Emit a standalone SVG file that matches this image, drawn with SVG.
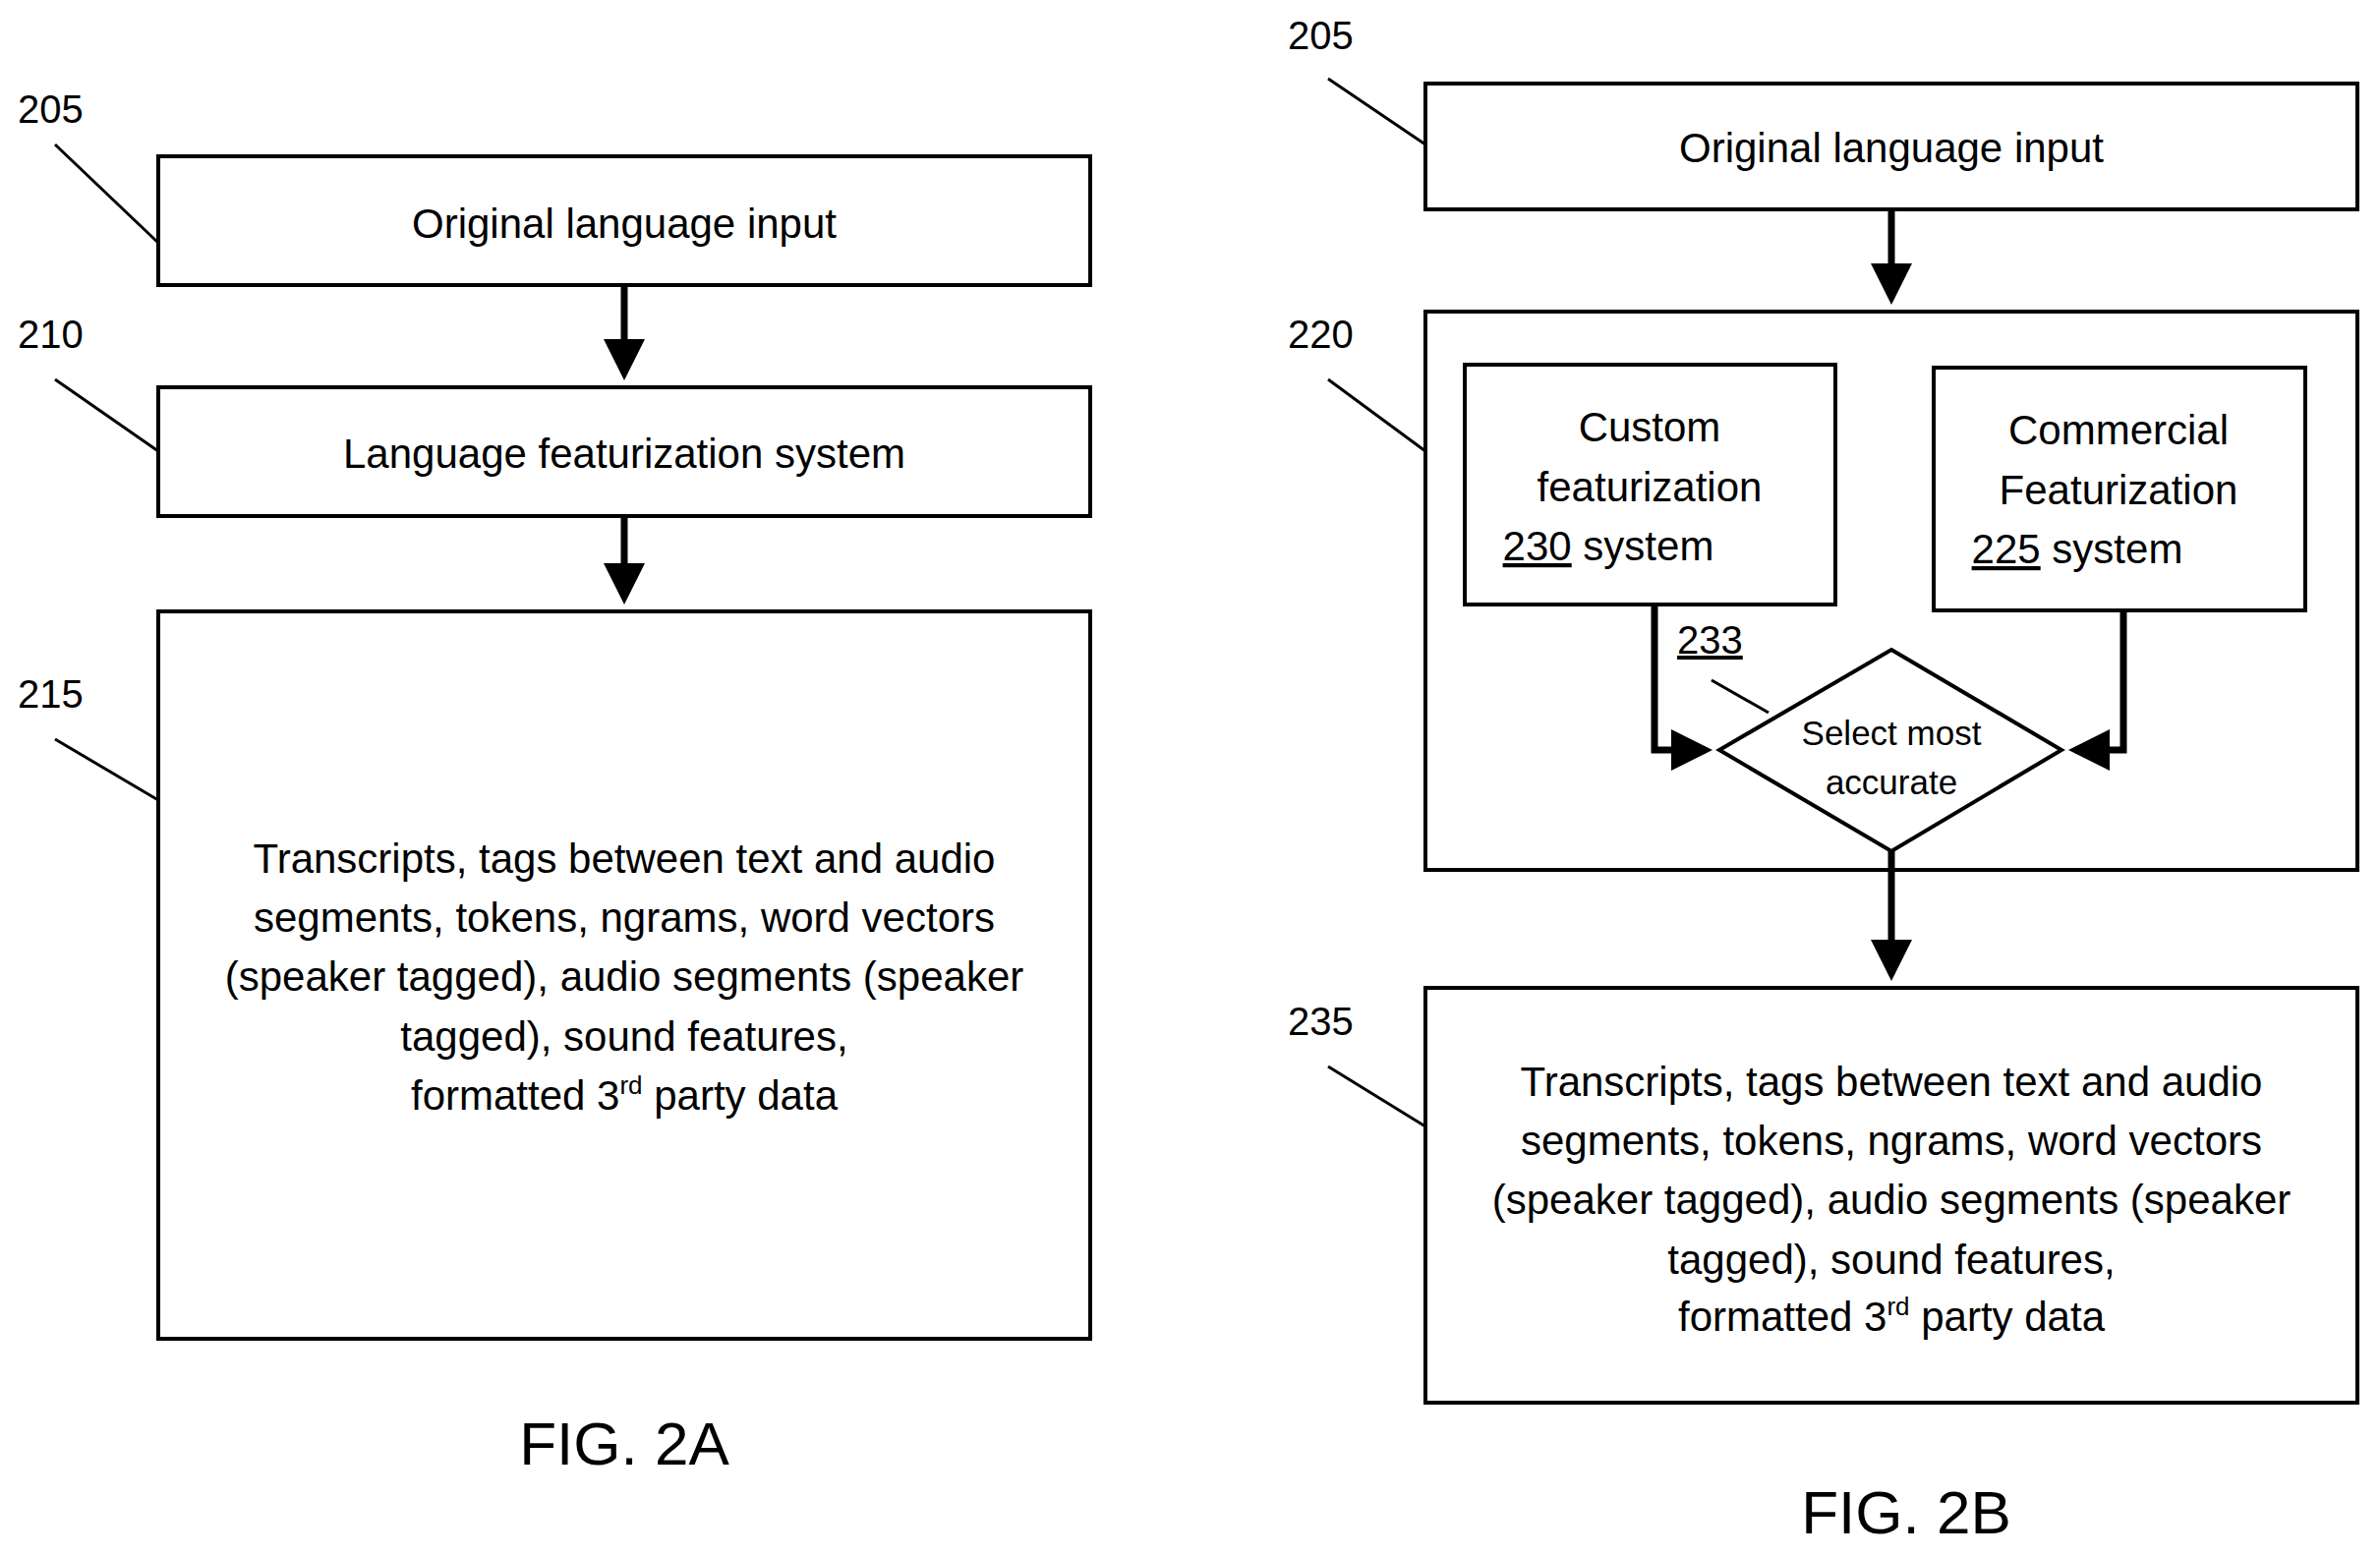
<svg xmlns="http://www.w3.org/2000/svg" width="2421" height="1583" viewBox="0 0 2421 1583">
<defs>
<style>
.box{fill:#fff;stroke:#000;stroke-width:4}
.lead{stroke:#000;stroke-width:3;fill:none}
.conn{stroke:#000;stroke-width:7;fill:none}
text{font-family:"Liberation Sans",Arial,sans-serif;fill:#000;text-anchor:middle}
.t{font-size:42px}
.lbl{font-size:40px;text-anchor:start}
.s{font-size:35px}
.fig{font-size:62px}
</style>
<marker id="ah" markerWidth="6" markerHeight="6" refX="5" refY="3" orient="auto" markerUnits="strokeWidth"><path d="M0,0 L6,3 L0,6 z" fill="#000"/></marker>
</defs>
<g id="fig2a">
<g id="n205a"><rect class="box" x="161" y="159" width="948" height="131"/><text class="t" x="635" y="242">Original language input</text>
<text class="lbl" x="18" y="125">205</text><line class="lead" x1="56" y1="147" x2="161" y2="247"/></g>
<g id="n210"><rect class="box" x="161" y="394" width="948" height="131"/><text class="t" x="635" y="476">Language featurization system</text>
<text class="lbl" x="18" y="354">210</text><line class="lead" x1="56" y1="386" x2="161" y2="459"/></g>
<g id="n215"><rect class="box" x="161" y="622" width="948" height="740"/>
<text class="t" x="635" y="888">Transcripts, tags between text and audio</text>
<text class="t" x="635" y="948">segments, tokens, ngrams, word vectors</text>
<text class="t" x="635" y="1008">(speaker tagged), audio segments (speaker</text>
<text class="t" x="635" y="1069">tagged), sound features,</text>
<text class="t" x="635" y="1129">formatted 3<tspan font-size="26" dy="-16">rd</tspan><tspan dy="16"> party data</tspan></text>
<text class="lbl" x="18" y="720">215</text><line class="lead" x1="56" y1="752" x2="161" y2="814"/></g>
<text class="fig" x="635" y="1490">FIG. 2A</text>
</g>
<g id="fig2b">
<g id="n205b"><rect class="box" x="1450" y="85" width="948" height="128"/><text class="t" x="1924" y="165">Original language input</text>
<text class="lbl" x="1310" y="50">205</text><line class="lead" x1="1351" y1="80" x2="1450" y2="147"/></g>
<g id="n220"><rect class="box" x="1450" y="317" width="948" height="568"/>
<text class="lbl" x="1310" y="354">220</text><line class="lead" x1="1351" y1="386" x2="1450" y2="459"/></g>
<g id="n230"><rect class="box" x="1490" y="371" width="377" height="244"/>
<text class="t" x="1678" y="449">Custom</text><text class="t" x="1678" y="510">featurization</text>
<text class="t" x="1636" y="570"><tspan text-decoration="underline">230</tspan> system</text></g>
<g id="n225"><rect class="box" x="1967" y="374" width="378" height="247"/>
<text class="t" x="2155" y="452">Commercial</text><text class="t" x="2155" y="513">Featurization</text>
<text class="t" x="2113" y="573"><tspan text-decoration="underline">225</tspan> system</text></g>
<g id="n233"><polygon class="box" points="1924,661 2097,763 1924,866 1749,763" stroke-width="3"/>
<text class="s" x="1924" y="758">Select most</text><text class="s" x="1924" y="808">accurate</text>
<text class="lbl" x="1706" y="665" text-decoration="underline">233</text><line class="lead" x1="1741" y1="692" x2="1799" y2="725"/></g>
<g id="n235"><rect class="box" x="1450" y="1005" width="948" height="422"/>
<text class="t" x="1924" y="1115">Transcripts, tags between text and audio</text>
<text class="t" x="1924" y="1175">segments, tokens, ngrams, word vectors</text>
<text class="t" x="1924" y="1235">(speaker tagged), audio segments (speaker</text>
<text class="t" x="1924" y="1296">tagged), sound features,</text>
<text class="t" x="1924" y="1354">formatted 3<tspan font-size="26" dy="-16">rd</tspan><tspan dy="16"> party data</tspan></text>
<text class="lbl" x="1310" y="1053">235</text><line class="lead" x1="1351" y1="1085" x2="1450" y2="1146"/></g>
<text class="fig" x="1939" y="1560">FIG. 2B</text>
</g>
<g id="connectors">
<line class="conn" x1="635" y1="290" x2="635" y2="380" marker-end="url(#ah)"/>
<line class="conn" x1="635" y1="525" x2="635" y2="608" marker-end="url(#ah)"/>
<line class="conn" x1="1924" y1="213" x2="1924" y2="303" marker-end="url(#ah)"/>
<polyline class="conn" points="1683,615 1683,763 1735,763" marker-end="url(#ah)"/>
<polyline class="conn" points="2160,621 2160,763 2111,763" marker-end="url(#ah)"/>
<line class="conn" x1="1924" y1="866" x2="1924" y2="991" marker-end="url(#ah)"/>
</g>
</svg>
